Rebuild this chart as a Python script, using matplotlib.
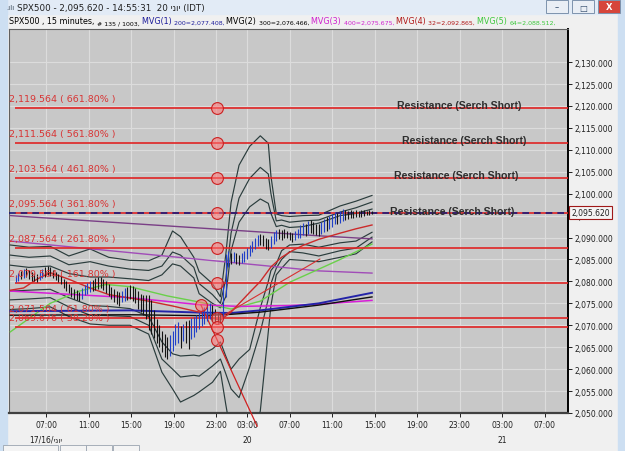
import numpy as np
import matplotlib
matplotlib.use("Agg")
import matplotlib.pyplot as plt
import matplotlib.transforms as mtransforms
from matplotlib.patches import Rectangle

# ---- data -------------------------------------------------------------
# 15 minute bars, index 0..134 (last bar 14:55, 20 June)
bar_high = [
    2081.5, 2082.0, 2082.4, 2082.8, 2083.0, 2082.6, 2082.2, 2081.8, 2081.6, 2082.2,
    2082.8, 2083.2, 2083.5, 2083.2, 2082.6, 2082.2, 2081.8, 2081.3, 2080.6, 2080.0,
    2079.4, 2078.8, 2078.3, 2078.0, 2077.6, 2078.6, 2079.2, 2079.6, 2080.0, 2080.4,
    2080.7, 2080.9, 2081.0, 2080.6, 2080.0, 2079.3, 2078.8, 2078.3, 2077.8, 2077.5,
    2077.9, 2078.4, 2078.8, 2079.2, 2078.9, 2078.4, 2077.8, 2077.2, 2076.9, 2077.0,
    2076.8, 2075.8, 2073.5, 2071.5, 2070.0, 2068.8, 2068.0, 2067.4, 2067.8, 2068.8,
    2070.3, 2070.8, 2069.8, 2070.4, 2071.0, 2071.2, 2071.6, 2071.9, 2072.3, 2073.0,
    2073.6, 2074.2, 2074.6, 2075.0, 2074.6, 2073.8, 2073.0, 2072.6, 2080.0, 2086.3,
    2086.9, 2086.5, 2086.8, 2086.4, 2086.0, 2086.4, 2086.9, 2087.6, 2088.4, 2089.2,
    2090.0, 2090.6, 2090.9, 2090.5, 2090.0, 2089.6, 2090.3, 2091.2, 2091.8, 2092.0,
    2091.8, 2092.0, 2091.6, 2091.2, 2091.0, 2091.4, 2091.9, 2092.8, 2093.4, 2093.0,
    2093.7, 2094.0, 2093.5, 2093.2, 2093.0, 2093.6, 2094.2, 2094.6, 2095.0, 2095.4,
    2095.8, 2095.5, 2096.0, 2096.5, 2096.2, 2096.0, 2096.3, 2096.0, 2096.2, 2096.0,
    2096.2, 2096.3, 2096.0, 2096.2, 2096.0]
bar_low = [
    2079.8, 2080.2, 2080.5, 2080.8, 2081.0, 2080.6, 2080.2, 2080.0, 2079.8, 2080.3,
    2080.7, 2081.0, 2081.4, 2081.2, 2080.8, 2080.3, 2079.8, 2079.4, 2078.4, 2077.8,
    2077.3, 2076.4, 2076.0, 2075.8, 2075.6, 2076.0, 2076.8, 2077.2, 2077.6, 2077.8,
    2078.0, 2078.3, 2078.6, 2078.0, 2077.4, 2076.6, 2076.0, 2075.4, 2074.9, 2074.5,
    2075.2, 2075.6, 2075.8, 2076.0, 2075.6, 2075.0, 2073.8, 2073.0, 2072.4, 2071.5,
    2069.0, 2068.0, 2067.0, 2066.0, 2065.0, 2063.8, 2062.8, 2062.3, 2063.0, 2064.2,
    2065.5, 2066.0, 2064.8, 2066.4, 2066.0, 2064.6, 2066.8, 2067.4, 2068.5, 2069.2,
    2069.8, 2070.3, 2071.0, 2071.4, 2071.0, 2070.6, 2070.4, 2070.8, 2071.5, 2076.5,
    2083.2, 2084.0, 2084.4, 2084.0, 2083.8, 2084.2, 2084.5, 2085.0, 2085.9, 2086.7,
    2087.4, 2088.0, 2088.4, 2088.0, 2087.5, 2087.2, 2087.7, 2088.6, 2089.3, 2089.6,
    2089.5, 2090.0, 2089.8, 2089.5, 2089.0, 2089.4, 2089.9, 2090.0, 2090.5, 2090.3,
    2090.8, 2091.0, 2090.8, 2090.5, 2090.4, 2090.9, 2091.3, 2091.6, 2092.0, 2092.5,
    2093.0, 2093.0, 2093.4, 2093.8, 2094.0, 2094.2, 2094.5, 2094.5, 2094.8, 2094.6,
    2094.8, 2095.0, 2095.1, 2095.2, 2095.3]
last_price = 2095.620

# envelope bands (3 upper, 3 lower), sampled at bar index
band_x = [-2, 5, 13, 20, 28, 35, 43, 50, 55, 59, 62, 67, 69, 74, 77, 79, 81, 84, 88,
          92, 95, 96, 98, 100, 103, 108, 114, 122, 128, 134]
upper1 = [2088.3, 2087.8, 2088.0, 2085.8, 2087.4, 2085.5, 2084.8, 2084.7, 2086.0, 2091.5,
          2090.2, 2085.5, 2082.2, 2079.5, 2076.5, 2086.0, 2098.0, 2106.5, 2110.8, 2113.2,
          2111.5, 2104.0, 2095.4, 2095.0, 2094.8, 2095.0, 2095.1, 2097.2, 2098.3, 2099.6]
upper2 = [2086.0, 2085.5, 2085.8, 2083.8, 2084.5, 2083.5, 2082.8, 2082.5, 2083.5, 2086.7,
          2086.0, 2083.2, 2079.5, 2077.0, 2075.0, 2080.5, 2091.0, 2099.0, 2103.5, 2106.0,
          2104.5, 2100.0, 2093.8, 2094.0, 2093.5, 2093.8, 2094.0, 2095.8, 2096.8, 2098.1]
upper3 = [2083.7, 2083.2, 2083.5, 2081.8, 2081.0, 2081.0, 2080.6, 2080.2, 2081.5, 2084.0,
          2083.5, 2080.8, 2077.2, 2075.0, 2074.0, 2076.5, 2087.0, 2093.5, 2097.0, 2098.8,
          2097.8, 2095.5, 2092.5, 2092.8, 2092.3, 2092.5, 2093.3, 2095.0, 2095.5, 2096.5]
lower3 = [2077.8, 2078.0, 2078.2, 2076.3, 2074.5, 2074.3, 2073.8, 2072.0, 2066.2, 2063.5,
          2063.0, 2063.2, 2063.0, 2064.6, 2066.2, 2063.0, 2060.0, 2062.3, 2064.5, 2074.0,
          2080.0, 2082.5, 2084.0, 2087.0, 2088.3, 2088.5, 2087.8, 2088.8, 2089.2, 2091.2]
lower2 = [2075.8, 2076.0, 2076.3, 2074.2, 2072.3, 2072.2, 2072.0, 2070.0, 2062.3, 2060.0,
          2058.2, 2058.6, 2058.4, 2060.7, 2062.3, 2059.0, 2055.5, 2053.5, 2060.5, 2068.5,
          2076.0, 2079.5, 2083.0, 2085.0, 2086.8, 2086.5, 2085.8, 2087.0, 2087.6, 2090.1]
lower1 = [2073.6, 2073.8, 2074.2, 2072.0, 2070.3, 2070.0, 2070.0, 2068.0, 2059.3, 2055.5,
          2052.5, 2054.0, 2054.8, 2057.0, 2059.5, 2052.0, 2045.0, 2036.0, 2038.0, 2050.5,
          2068.5, 2074.5, 2081.5, 2083.0, 2085.0, 2084.8, 2084.5, 2085.5, 2086.3, 2089.0]

# moving averages
mvg1_x = [-2, 43, 69, 81, 92, 103, 114, 134]          # MVG(1) 200
mvg1_y = [2073.2, 2073.4, 2072.9, 2072.8, 2073.4, 2074.2, 2075.0, 2077.408]
mvg2_y = [2072.3, 2072.4, 2072.2, 2072.5, 2073.0, 2073.8, 2074.6, 2076.466]  # MVG(2) 300
mvg3_x = [-2, 43, 69, 84, 103, 114, 134]              # MVG(3) 400
mvg3_y = [2077.8, 2076.3, 2074.7, 2074.3, 2074.5, 2074.8, 2075.675]
mvg4_x = [-2, 3, 8, 13, 20, 28, 35, 43, 50, 59, 69, 74, 77, 81, 88, 92, 96, 100, 104,
          108, 114, 122, 128, 134]                    # MVG(4) 32
mvg4_y = [2078.0, 2078.5, 2080.5, 2082.0, 2080.5, 2078.5, 2077.0, 2076.2, 2075.5, 2074.4,
          2073.0, 2071.6, 2071.2, 2073.0, 2077.5, 2080.0, 2083.3, 2085.5, 2087.0, 2088.2,
          2089.6, 2091.0, 2092.0, 2092.865]
mvg5_x = [-2, 13, 24, 34, 43, 57, 69, 81, 92, 103, 114, 122, 134]   # MVG(5) 64
mvg5_y = [2068.5, 2075.0, 2077.8, 2079.3, 2078.8, 2076.7, 2075.3, 2073.7, 2075.5, 2079.8,
          2082.8, 2085.0, 2088.512]

# two drawn trend lines
trend_x = [-2, 114, 134]
trend_a = [2095.0, 2090.4, 2089.7]
trend_b = [2089.2, 2082.4, 2081.9]

# fibonacci extension levels
fib_values = [2119.564, 2111.564, 2103.564, 2095.564, 2087.564, 2079.564, 2071.564, 2069.676]
fib_pct = ["661.80%", "561.80%", "461.80%", "361.80%", "261.80%", "161.80%", "61.80%", "38.20%"]
fib_anchor_x = 75.7
extra_pts_x = [69.7, 75.7]
extra_pts_y = [2074.6, 2066.6]
fib_leg_x = [69.7, 90.8]
fib_leg_y = [2074.6, 2047.0]
rise_leg_x = [75.7, 114.4]
rise_leg_y = [2071.4, 2085.1]

resistance_levels = [2119.564, 2111.564, 2103.564, 2095.564]
resistance_x = [166.7, 168.6, 165.6, 164.1]

tick_pos = [11.5, 27.5, 43.5, 59.5, 75.5, 87, 103, 119, 135, 151, 167, 183, 199]
tick_lbl = ["07:00", "11:00", "15:00", "19:00", "23:00", "03:00", "07:00",
            "11:00", "15:00", "19:00", "23:00", "03:00", "07:00"]
date_pos = [11.5, 87, 183]
date_lbl = ["17/16/ינוי", "20", "21"]

# ---- figure -----------------------------------------------------------
W, H = 625, 452
fig = plt.figure(figsize=(W / 100, H / 100), dpi=100)
fig.patch.set_facecolor("#f0f0f0")

# window chrome in pixel coordinates
chrome = fig.add_axes([0, 0, 1, 1], zorder=0)
chrome.set_xlim(0, W)
chrome.set_ylim(H, 0)
chrome.axis("off")
chrome.add_patch(Rectangle((0, 0), W, 15, color="#e2ebf6"))
chrome.add_patch(Rectangle((0, 0), 7, H, color="#cddff2"))
chrome.add_patch(Rectangle((618, 0), 7, H, color="#cddff2"))
for bx, fc in [(546, "#e9eef5"), (572, "#e9eef5"), (598, "#d6453b")]:
    chrome.add_patch(Rectangle((bx, 1), 22, 13, fc=fc, ec="#7d93ad", lw=0.7))
chrome.text(557, 8, "–", ha="center", va="center", fontsize=6, color="#304a6a")
chrome.text(583, 8, "□", ha="center", va="center", fontsize=6, color="#304a6a")
chrome.text(609, 8, "X", ha="center", va="center", fontsize=6, color="white", weight="bold")
chrome.text(6, 8, ".ılı", ha="left", va="center", fontsize=5, color="#405060")
chrome.text(17, 8, "SPX500 - 2,095.620 - 14:55:31  20 ינוי (IDT)", ha="left",
            va="center", fontsize=6.3, color="#202020")
for bx in [3, 60, 86, 113]:
    chrome.add_patch(Rectangle((bx, 446), 26 if bx > 3 else 55, 8, fc="#f4f4f4",
                               ec="#9aa4b0", lw=0.6))

segs = [("SPX500 , 15 minutes, ", "black", 5.8), ("# 135 / 1003, ", "black", 4.5),
        ("MVG(1) ", "#1d1d9c", 5.8), ("200=2,077.408, ", "#1d1d9c", 4.5),
        ("MVG(2) ", "black", 5.8), ("300=2,076.466, ", "black", 4.5),
        ("MVG(3) ", "#d020d0", 5.8), ("400=2,075.675, ", "#d020d0", 4.5),
        ("MVG(4) ", "#b01818", 5.8), ("32=2,092.865, ", "#b01818", 4.5),
        ("MVG(5) ", "#3cc83c", 5.8), ("64=2,088.512,", "#3cc83c", 4.5)]
prev = chrome.text(9, 24, segs[0][0], color=segs[0][1], fontsize=segs[0][2],
                   ha="left", va="baseline")
for s, c, fs in segs[1:]:
    prev = chrome.annotate(s, xy=(1, 0), xycoords=prev, ha="left", va="bottom",
                           color=c, fontsize=fs)

# main chart axes
ax = fig.add_axes([9 / W, 1 - 414 / H, 559 / W, 384 / H], zorder=1)
ax.set_facecolor("#c8c8c8")
ax.set_xlim(-2.5, 207.7)
ax.set_ylim(2050, 2137.55)

ax.set_xticks(tick_pos)
ax.set_xticklabels(tick_lbl)
ax.set_yticks(np.arange(2050, 2131, 5))
ax.yaxis.set_major_formatter(matplotlib.ticker.FuncFormatter(lambda v, p: f"{v:,.3f}"))
ax.yaxis.tick_right()
ax.tick_params(axis="both", labelsize=5.5, colors="#202020", length=3, width=0.7, pad=2)
ax.grid(True, color="#dcdcdc", lw=0.8)
ax.set_axisbelow(True)
for side in ["left", "top"]:
    ax.spines[side].set_color("#606060")
    ax.spines[side].set_linewidth(0.8)
ax.spines["right"].set_linewidth(1.4)
ax.spines["bottom"].set_linewidth(1.6)
ax.spines["bottom"].set_color("#404040")

for x, lbl in zip(date_pos, date_lbl):
    ax.text(x, -0.068, lbl, transform=ax.get_xaxis_transform(), ha="center",
            va="center", fontsize=5.5, color="#202020")

# bands
for band in [upper1, upper2, upper3, lower3, lower2, lower1]:
    ax.plot(band_x, band, color="#2a3c3c", lw=0.85, zorder=3)

# trend lines and moving averages
ax.plot(trend_x, trend_a, color="#7a3f86", lw=1.0, zorder=3)
ax.plot(trend_x, trend_b, color="#a14cb8", lw=1.0, zorder=3)
ax.plot(mvg5_x, mvg5_y, color="#6ad04a", lw=1.0, zorder=3)
ax.plot(mvg3_x, mvg3_y, color="#d81ed8", lw=1.1, zorder=3)
ax.plot(mvg1_x, mvg1_y, color="#2424a8", lw=1.4, zorder=3)
ax.plot(mvg1_x, mvg2_y, color="#101010", lw=1.0, zorder=3)
ax.plot(mvg4_x, mvg4_y, color="#cc2a2a", lw=1.0, zorder=3)

# fibonacci levels
xmin, xmax = ax.get_xlim()
ax.hlines(fib_values, -0.3, xmax, color="#e02424", lw=1.2, zorder=4)
ax.plot(fib_leg_x, fib_leg_y, color="#d02020", lw=0.9, zorder=4, clip_on=False)
ax.plot(rise_leg_x, rise_leg_y, color="#d83030", lw=0.8, zorder=4)
ax.axhline(last_price, color="#1a1a7a", lw=1.2, ls=(0, (4, 3)), zorder=5)

label_tr = mtransforms.offset_copy(ax.transData, fig=fig, y=5.0, units="points")
for v, p in zip(fib_values, fib_pct):
    ax.text(-2.6, v, f"{v:,.3f} ( {p} )", transform=label_tr, ha="left",
            va="baseline", fontsize=6.8, color="#d83434", zorder=7, clip_on=True)

for v, x in zip(resistance_levels, resistance_x):
    ax.text(x, v + 0.6, "Resistance (Serch Short)", ha="center", va="center",
            fontsize=7.6, family="Liberation Sans", weight="bold", color="#2e2e2e",
            zorder=7)

# price bars
hi = np.array(bar_high)
lo = np.array(bar_low)
mid = (hi + lo) / 2
idx = np.arange(len(hi))
up = np.r_[True, (mid[1:] - mid[:-1]) > 0.35]
ax.vlines(idx[up], lo[up], hi[up], color="#2040c8", lw=0.8, zorder=6)
ax.vlines(idx[~up], lo[~up], hi[~up], color="#141414", lw=0.8, zorder=6)

# anchor circles
circ_x = [fib_anchor_x] * len(fib_values) + extra_pts_x
circ_y = fib_values + extra_pts_y
ax.scatter(circ_x, circ_y, s=72, facecolor=(1.0, 0.45, 0.45, 0.55),
           edgecolor="#cc2020", lw=0.8, zorder=8)

# last price box on the axis
ax.text(1.006, last_price, f"{last_price:,.3f}", transform=ax.get_yaxis_transform(),
        ha="left", va="center", fontsize=5.5, color="#202020", zorder=10,
        bbox=dict(boxstyle="square,pad=0.25", fc="#f4f4f4", ec="#a01818", lw=0.8),
        clip_on=False)

fig.savefig("out.png", dpi=100, facecolor=fig.get_facecolor())
